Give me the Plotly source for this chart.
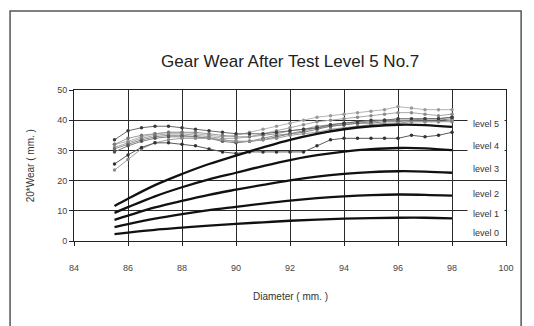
import plotly.graph_objects as go

# Diameter stations (mm) where the tooth wear was measured
diameter = [85.5, 86, 86.5, 87, 87.5, 88, 88.5, 89, 89.5, 90, 90.5, 91, 91.5,
            92, 92.5, 93, 93.5, 94, 94.5, 95, 95.5, 96, 96.5, 97, 97.5, 98]

# Measured wear (20x scale, mm) for each tooth
tooth_a = [33.5, 36.5, 37.5, 38, 38, 37.5, 37, 36.5, 36, 35.5, 35.5, 35.5, 36,
           36.5, 37, 37.5, 38.5, 39, 39.5, 40, 40, 40.5, 40.5, 40.5, 40.5, 41]
tooth_b = [25.5, 28.5, 31, 32.5, 32.5, 32, 31.5, 30.5, 29.5, 29, 29.5, 29.5, 29.5,
           29.5, 29.5, 31.5, 33.5, 34, 34, 34, 34, 34, 35, 34.5, 35, 36]
tooth_c = [23.5, 27, 30.5, 32.5, 33.5, 34, 34, 34, 33.5, 33, 33, 33.5, 34,
           35, 35.5, 36, 37, 37.5, 38, 38.5, 39, 39, 39.5, 39.5, 39.5, 40]
tooth_d = [32, 33, 34.5, 35.5, 36, 36, 35.5, 35, 34.5, 35, 36, 37, 38,
           39, 40, 41, 41.5, 42, 42.5, 43, 43.5, 44.5, 44, 43.5, 43.5, 43.5]
tooth_e = [31, 32.5, 34, 35, 35.5, 35.5, 35, 34.5, 34, 34, 34.5, 35.5, 36.5,
           37.5, 38.5, 39.5, 40, 40.5, 41, 41.5, 42, 42.5, 42.5, 42, 41.5, 42]
tooth_f = [30.5, 32, 33.5, 34.5, 35, 35, 34.5, 34, 33.5, 33, 33, 34, 35,
           35.5, 36.5, 37.5, 38, 38.5, 39, 39.5, 40, 40, 40, 40.5, 40.5, 41]
tooth_g = [29.5, 31.5, 33, 34, 34.5, 34.5, 34.5, 34, 33, 32.5, 33, 33.5, 34.5,
           35.5, 36, 37, 38, 38.5, 39, 39, 39.5, 39.5, 40, 40, 40, 40.5]
tooth_h = [32, 34, 35, 35.5, 36, 36, 36, 35.5, 35, 34.5, 34.5, 35, 35.5,
           36.5, 37, 38, 38.5, 39, 39.5, 39.5, 40, 40, 39.5, 39.5, 39.5, 39.5]

# Wear-level boundary curves
curve_d = [85.5, 86, 87, 88, 89, 90, 91, 92, 93, 94, 95, 96, 97, 98]
level_1 = [2.3, 2.8, 3.7, 4.4, 5.1, 5.7, 6.2, 6.7, 7.1, 7.4, 7.6, 7.7, 7.7, 7.5]
level_2 = [4.6, 5.6, 7.4, 8.9, 10.2, 11.3, 12.4, 13.4, 14.2, 14.8, 15.2, 15.4, 15.3, 15.0]
level_3 = [7.0, 8.4, 11.1, 13.3, 15.3, 17.0, 18.6, 20.1, 21.3, 22.2, 22.8, 23.1, 23.0, 22.6]
level_4 = [9.3, 11.2, 14.8, 17.8, 20.4, 22.6, 24.8, 26.8, 28.4, 29.6, 30.4, 30.8, 30.7, 30.1]
level_5 = [11.6, 14.0, 18.5, 22.2, 25.5, 28.3, 31.0, 33.5, 35.5, 37.0, 38.0, 38.5, 38.4, 37.8]

level_names = ["level 5", "level 4", "level 3", "level 2", "level 1", "level 0"]
level_label_y = [38.6, 31.5, 23.7, 15.4, 8.8, 2.6]

x_ticks = [84, 86, 88, 90, 92, 94, 96, 98, 100]
y_ticks = [0, 10, 20, 30, 40, 50]

FONT = "Liberation Sans, Arial"

fig = go.Figure()

teeth = [
    (tooth_d, "#b4b4b4", "#9a9a9a"),
    (tooth_e, "#a8a8a8", "#8c8c8c"),
    (tooth_h, "#9c9c9c", "#7a7a7a"),
    (tooth_f, "#8e8e8e", "#6e6e6e"),
    (tooth_g, "#808080", "#555555"),
    (tooth_c, "#a0a0a0", "#8a8a8a"),
    (tooth_a, "#6a6a6a", "#3c3c3c"),
    (tooth_b, "#5a5a5a", "#333333"),
]
for vals, lc, mc in teeth:
    fig.add_trace(go.Scatter(
        x=diameter, y=vals, mode="lines+markers",
        line=dict(color=lc, width=1),
        marker=dict(color=mc, size=3.5, symbol="circle"),
        showlegend=False, hoverinfo="skip"))

for vals in [level_1, level_2, level_3, level_4, level_5]:
    fig.add_trace(go.Scatter(
        x=curve_d, y=vals, mode="lines",
        line=dict(color="#111111", width=2.3, shape="spline"),
        showlegend=False, hoverinfo="skip"))

# Level labels on small white boxes to the right of the curves
for name, yv in zip(level_names, level_label_y):
    fig.add_annotation(
        x=98, y=yv, xref="x", yref="y", text=name, showarrow=False,
        xanchor="left", xshift=15, width=34, align="center",
        bgcolor="white", borderpad=1,
        font=dict(family=FONT, size=9, color="#333333"))

# Outer frame of the chart
fig.add_shape(type="rect", xref="paper", yref="paper",
              x0=-0.148, x1=1.035, y0=-0.7, y1=1.523,
              line=dict(color="#555555", width=1.5), layer="below")

fig.add_annotation(
    x=0.5, y=1.0, xref="paper", yref="paper", yanchor="middle", yshift=29,
    text="Gear Wear After Test Level 5 No.7", showarrow=False,
    font=dict(family=FONT, size=17, color="#222222"))
fig.add_annotation(
    x=-0.1, y=0.5, xref="paper", yref="paper", xanchor="center",
    text="20*Wear ( mm. )", showarrow=False, textangle=-90,
    font=dict(family=FONT, size=10, color="#333333"))
fig.add_annotation(
    x=0.5, y=0, xref="paper", yref="paper", yanchor="middle", yshift=-55,
    text="Diameter ( mm. )", showarrow=False,
    font=dict(family=FONT, size=10, color="#333333"))

axis_common = dict(
    showgrid=True, gridcolor="#2a2a2a", gridwidth=1,
    showline=True, linecolor="#222222", linewidth=1, mirror=True,
    ticks="outside", ticklen=4, tickcolor="#222222",
    zeroline=False,
    tickfont=dict(family=FONT, size=9, color="#444444"))

fig.update_xaxes(range=[84, 100], tickvals=x_ticks, ticklabelstandoff=14,
                 **axis_common)
fig.update_yaxes(range=[0, 50], tickvals=y_ticks, **axis_common)

fig.update_layout(
    width=534, height=326,
    margin=dict(l=74, r=28, t=90, b=85),
    paper_bgcolor="white", plot_bgcolor="white",
    showlegend=False)

fig.write_html("out.html")
